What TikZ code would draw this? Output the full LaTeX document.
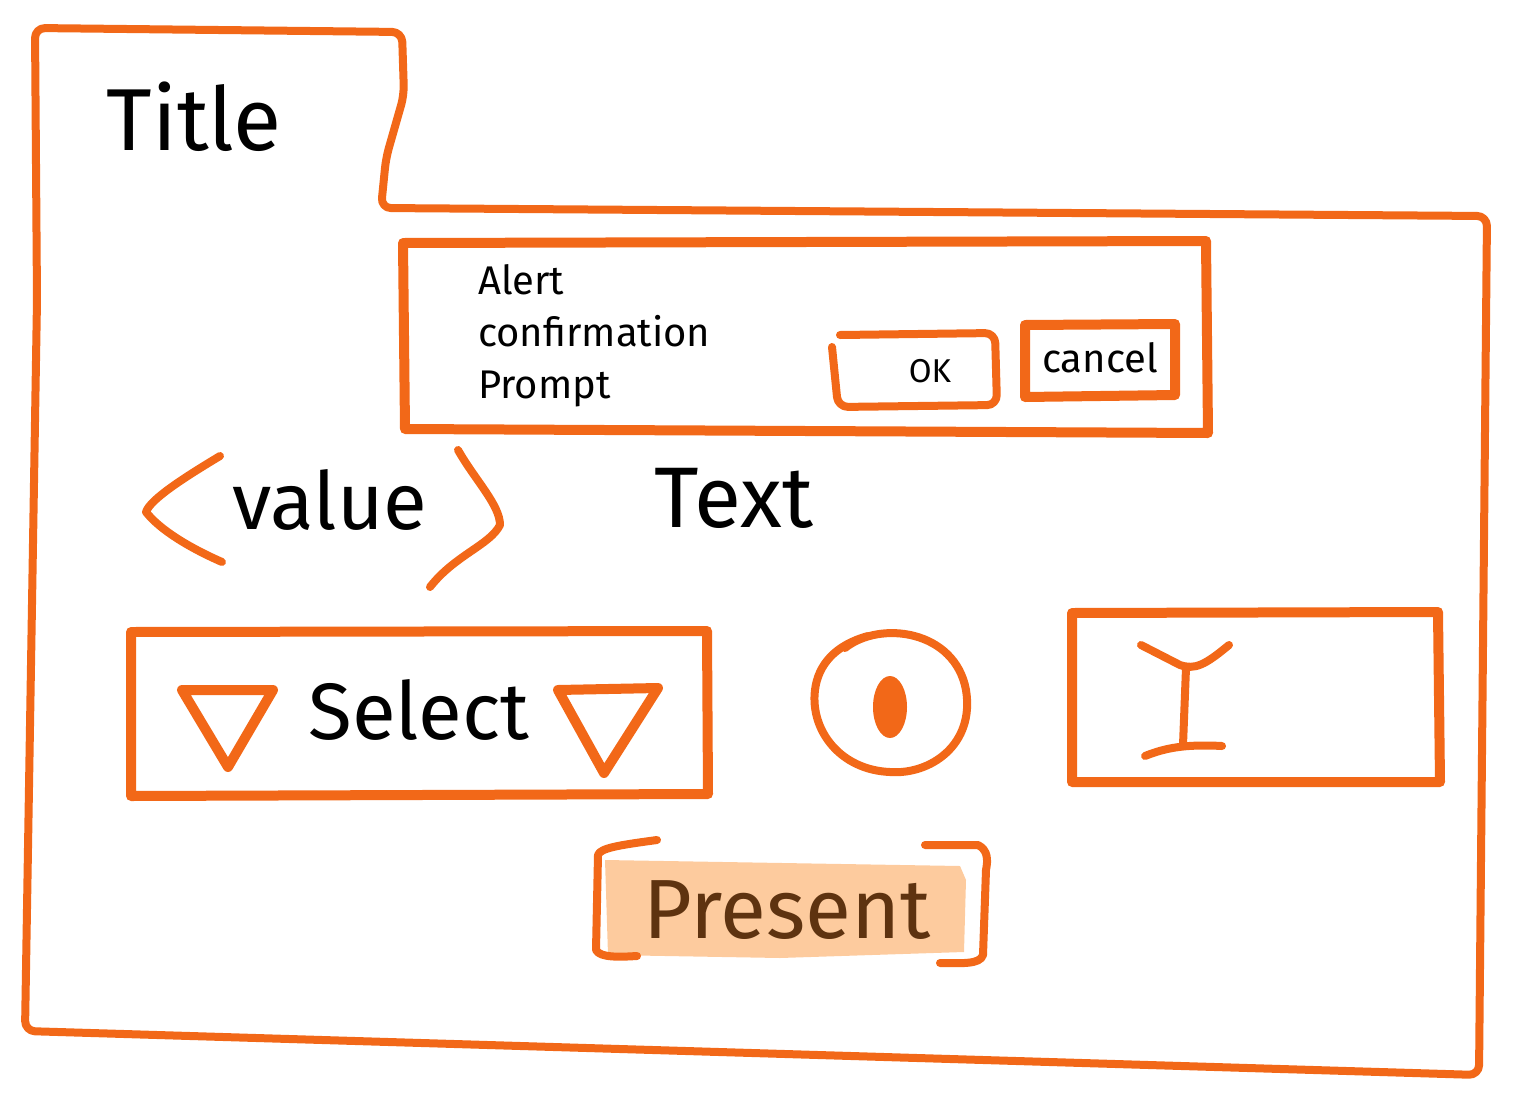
\documentclass[tikz,border=0pt]{standalone}
\usepackage{fontspec}
\setmainfont{Fira Sans}
\definecolor{sketch}{HTML}{F26818}
\definecolor{peach}{HTML}{FDCB9E}
\definecolor{brownt}{HTML}{5E3310}
\tikzset{
  pen/.style={draw=sketch, line width=8pt, line cap=round, line join=round},
  thickpen/.style={pen, line width=10pt},
  lbl/.style={inner sep=0pt, text=black},
}
\begin{document}
\begin{tikzpicture}[x=1pt,y=-1pt]
\useasboundingbox (0,0) rectangle (1524,1098);
% outer window frame with tab
\draw[pen, rounded corners=10pt] (35,28) -- (402,32) -- (404,95) -- (386,158) -- (381,208) -- (1487,216) -- (1479,1075) -- (25,1031) -- (37,300) -- cycle;
\node[lbl, font=\fontsize{88}{94}\selectfont] (title) at (194,117) {Title};
% alert box
\draw[thickpen] (403,243) -- (1206,241) -- (1208,433) -- (405,429) -- cycle;
\node[lbl, font=\fontsize{40}{52}\selectfont, align=left, anchor=west] (alerttxt) at (478,336) {Alert\\confirmation\\Prompt};
\draw[pen, rounded corners=10pt] (840,335) -- (995,333) -- (997,405) -- (838,407) -- (832,347);
\node[lbl, font=\fontsize{33}{36}\selectfont] (ok) at (930,371) {OK};
\draw[thickpen] (1025,325) -- (1175,324) -- (1175,395) -- (1025,397) -- cycle;
\node[lbl, font=\fontsize{40}{44}\selectfont] (cancel) at (1100,358) {cancel};
% value stepper
\draw[pen] (220,456) .. controls (180,480) and (150,500) .. (146,512) .. controls (160,530) and (190,548) .. (222,562);
\draw[pen] (458,450) .. controls (475,480) and (500,505) .. (500,525) .. controls (490,545) and (455,555) .. (430,587);
\node[lbl, font=\fontsize{80}{86}\selectfont] (value) at (330,500) {value};
\node[lbl, font=\fontsize{86}{92}\selectfont] (text) at (734,498) {Text};
% select box
\draw[thickpen] (131,632) -- (707,631) -- (708,794) -- (131,796) -- cycle;
\draw[thickpen] (182,690) -- (273,690) -- (228,767) -- cycle;
\draw[thickpen] (558,690) -- (658,688) -- (604,773) -- cycle;
\node[lbl, font=\fontsize{80}{86}\selectfont] (select) at (419,710) {Select};
% radio button
\draw[pen] (845,648) .. controls (880,620) and (955,630) .. (966,690) .. controls (975,745) and (930,775) .. (890,772) .. controls (840,770) and (810,730) .. (815,690) .. controls (818,665) and (835,645) .. (868,636);
\fill[sketch] (890,707) ellipse [x radius=17, y radius=31];
% text input
\draw[thickpen] (1072,613) -- (1438,612) -- (1440,782) -- (1072,782) -- cycle;
\draw[pen] (1141,645) -- (1180,665) .. controls (1195,670) and (1205,665) .. (1229,645);
\draw[pen] (1186,668) -- (1183,745);
\draw[pen] (1145,756) .. controls (1165,748) and (1185,744) .. (1222,746);
% present button
\fill[peach] (605,860) -- (960,866) -- (966,880) -- (964,952) -- (780,958) -- (608,955) -- cycle;
\draw[pen] (657,840) .. controls (620,845) and (600,848) .. (598,855) -- (596,950) .. controls (600,958) and (620,957) .. (637,956);
\draw[pen] (925,845) -- (978,845) .. controls (988,850) and (988,860) .. (986,870) -- (983,955) .. controls (980,965) and (960,963) .. (940,963);
\node[lbl, text=brownt, font=\fontsize{84}{88}\selectfont] (present) at (787,910) {Present};
\end{tikzpicture}
\end{document}
